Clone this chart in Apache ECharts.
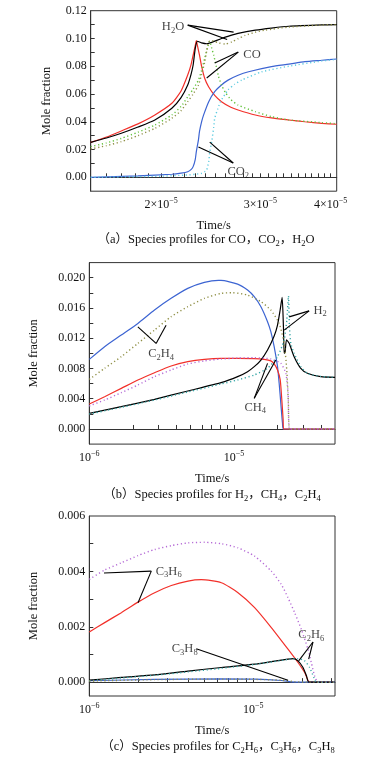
<!DOCTYPE html>
<html><head><meta charset="utf-8">
<script src="https://cdn.jsdelivr.net/npm/echarts@6/dist/echarts.min.js"></script>
<style>html,body{margin:0;padding:0;background:#fff}#c{width:370px;height:760px}</style>
</head><body><div id="c"></div>
<script>
// ================= DATA (time in s, mole fraction) =================
// (a) CO, CO2, H2O
const a_CO_solid = [[1.50e-5,0.0252],[1.60e-5,0.0290],[1.70e-5,0.0334],[1.82e-5,0.0385],[1.95e-5,0.0449],[2.09e-5,0.0533],[2.17e-5,0.0622],[2.23e-5,0.0737],[2.26e-5,0.0810],[2.28e-5,0.0880],[2.30e-5,0.0950],[2.31e-5,0.0985],[2.32e-5,0.0950],[2.34e-5,0.0880],[2.36e-5,0.0800],[2.39e-5,0.0713],[2.43e-5,0.0650],[2.49e-5,0.0590],[2.56e-5,0.0545],[2.66e-5,0.0505],[2.74e-5,0.0485],[2.94e-5,0.0449],[3.14e-5,0.0428],[3.37e-5,0.0413],[3.60e-5,0.0400],[3.86e-5,0.0389],[4.10e-5,0.0382]];
const a_CO_dotted = [[1.50e-5,0.0221],[1.60e-5,0.0248],[1.70e-5,0.0280],[1.82e-5,0.0325],[1.95e-5,0.0377],[2.09e-5,0.0449],[2.17e-5,0.0510],[2.23e-5,0.0580],[2.28e-5,0.0635],[2.33e-5,0.0700],[2.36e-5,0.0770],[2.39e-5,0.0857],[2.42e-5,0.0940],[2.44e-5,0.0980],[2.46e-5,0.0930],[2.48e-5,0.0880],[2.53e-5,0.0725],[2.56e-5,0.0665],[2.60e-5,0.0612],[2.66e-5,0.0560],[2.74e-5,0.0520],[2.94e-5,0.0473],[3.14e-5,0.0437],[3.37e-5,0.0413],[3.86e-5,0.0394],[4.10e-5,0.0386]];
const a_H2O_solid = [[1.50e-5,0.0252],[1.60e-5,0.0283],[1.70e-5,0.0317],[1.82e-5,0.0362],[1.95e-5,0.0413],[2.09e-5,0.0497],[2.17e-5,0.0574],[2.23e-5,0.0665],[2.26e-5,0.0740],[2.28e-5,0.0809],[2.30e-5,0.0929],[2.32e-5,0.0980],[2.34e-5,0.0975],[2.36e-5,0.0968],[2.41e-5,0.0962],[2.46e-5,0.0972],[2.56e-5,0.1000],[2.66e-5,0.1022],[2.74e-5,0.1037],[2.94e-5,0.1060],[3.14e-5,0.1075],[3.37e-5,0.1088],[3.86e-5,0.1098],[4.10e-5,0.1100]];
const a_H2O_dotted = [[1.50e-5,0.0204],[1.60e-5,0.0228],[1.70e-5,0.0257],[1.82e-5,0.0300],[1.95e-5,0.0353],[2.09e-5,0.0425],[2.17e-5,0.0480],[2.23e-5,0.0545],[2.28e-5,0.0600],[2.33e-5,0.0665],[2.36e-5,0.0740],[2.39e-5,0.0830],[2.41e-5,0.0910],[2.43e-5,0.0975],[2.46e-5,0.0985],[2.49e-5,0.0978],[2.53e-5,0.0968],[2.60e-5,0.0960],[2.67e-5,0.0975],[2.74e-5,0.0998],[2.82e-5,0.1022],[2.94e-5,0.1045],[3.06e-5,0.1060],[3.37e-5,0.1082],[3.86e-5,0.1097],[4.10e-5,0.1100]];
const a_CO2_solid = [[1.50e-5,0.0000],[1.82e-5,0.0010],[2.09e-5,0.0022],[2.17e-5,0.0030],[2.23e-5,0.0040],[2.26e-5,0.0055],[2.28e-5,0.0077],[2.30e-5,0.0130],[2.31e-5,0.0185],[2.33e-5,0.0270],[2.34e-5,0.0330],[2.36e-5,0.0400],[2.38e-5,0.0450],[2.43e-5,0.0545],[2.49e-5,0.0617],[2.56e-5,0.0665],[2.63e-5,0.0700],[2.74e-5,0.0735],[2.86e-5,0.0760],[3.14e-5,0.0797],[3.37e-5,0.0815],[3.60e-5,0.0833],[3.86e-5,0.0843],[4.10e-5,0.0852]];
const a_CO2_dotted = [[1.50e-5,0.0000],[1.95e-5,0.0007],[2.23e-5,0.0017],[2.33e-5,0.0025],[2.36e-5,0.0029],[2.39e-5,0.0040],[2.41e-5,0.0053],[2.43e-5,0.0113],[2.44e-5,0.0180],[2.46e-5,0.0257],[2.48e-5,0.0360],[2.49e-5,0.0425],[2.52e-5,0.0490],[2.55e-5,0.0545],[2.63e-5,0.0629],[2.70e-5,0.0670],[2.78e-5,0.0700],[3.02e-5,0.0760],[3.37e-5,0.0800],[3.86e-5,0.0838],[4.10e-5,0.0850]];

// (b) H2, CH4, C2H4
const b_C2H4_solid = [[1e-6,0.0092],[1.276e-6,0.01088],[1.664e-6,0.01242],[2.167e-6,0.01396],[2.824e-6,0.01573],[3.68e-6,0.01727],[4.795e-6,0.01859],[6.248e-6,0.01938],[7.8e-6,0.01965],[8.141e-6,0.01965],[1.061e-5,0.01916],[1.243e-5,0.01837],[1.382e-5,0.01749],[1.537e-5,0.01617],[1.708e-5,0.01419],[1.80e-5,0.01286],[1.898e-5,0.01088],[2.002e-5,0.00824],[2.055e-5,0.00604],[2.110e-5,0.00339],[2.167e-5,0.00075],[2.20e-5,0],[3.0e-5,0],[5e-5,0]];
const b_C2H4_dotted = [[1e-6,0.00656],[1.276e-6,0.00802],[1.664e-6,0.00956],[2.167e-6,0.01132],[2.824e-6,0.01308],[3.68e-6,0.01485],[4.795e-6,0.01617],[6.248e-6,0.01727],[8.141e-6,0.01793],[9.7e-6,0.01802],[1.243e-5,0.01771],[1.537e-5,0.01683],[1.80e-5,0.01573],[2.055e-5,0.01396],[2.225e-5,0.01132],[2.32e-5,0.0078],[2.38e-5,0.0034],[2.43e-5,0],[3.0e-5,0],[5e-5,0]];
const b_CH4_solid = [[1e-6,0.0033],[1.276e-6,0.00427],[1.664e-6,0.00537],[2.167e-6,0.00648],[2.824e-6,0.00744],[3.68e-6,0.00833],[4.795e-6,0.0089],[6.248e-6,0.00921],[8.141e-6,0.00934],[1.061e-5,0.00934],[1.382e-5,0.0093],[1.62e-5,0.0092],[1.80e-5,0.0090],[1.898e-5,0.0086],[2.002e-5,0.0078],[2.09e-5,0.0065],[2.145e-5,0.0038],[2.19e-5,0.0012],[2.21e-5,0],[3.0e-5,0],[5e-5,0]];
const b_CH4_dotted = [[1e-6,0.00304],[1.276e-6,0.00383],[1.664e-6,0.0048],[2.167e-6,0.00581],[2.824e-6,0.00692],[3.68e-6,0.0078],[4.795e-6,0.00859],[6.248e-6,0.009],[8.141e-6,0.00925],[1.061e-5,0.00938],[1.382e-5,0.00943],[1.80e-5,0.00925],[2.11e-5,0.00868],[2.285e-5,0.00736],[2.37e-5,0.0047],[2.43e-5,0],[3.0e-5,0],[5e-5,0]];
const b_H2_solid = [[1e-6,0.00207],[1.664e-6,0.00295],[2.824e-6,0.00392],[4.795e-6,0.00502],[8.141e-6,0.00612],[1.061e-5,0.00692],[1.243e-5,0.00758],[1.382e-5,0.00824],[1.537e-5,0.00912],[1.708e-5,0.01044],[1.898e-5,0.01229],[2.002e-5,0.01374],[2.088e-5,0.01573],[2.155e-5,0.0174],[2.20e-5,0.0135],[2.225e-5,0.0100],[2.26e-5,0.0102],[2.31e-5,0.0118],[2.41e-5,0.01132],[2.608e-5,0.00956],[2.90e-5,0.00802],[3.224e-5,0.00736],[3.983e-5,0.00692],[5e-5,0.00683]];
const b_H2_dotted = [[1e-6,0.00198],[1.664e-6,0.00286],[2.824e-6,0.00383],[4.795e-6,0.00489],[8.141e-6,0.00595],[1.061e-5,0.00648],[1.382e-5,0.00714],[1.708e-5,0.00802],[2.002e-5,0.00956],[2.225e-5,0.01176],[2.322e-5,0.0144],[2.384e-5,0.01758],[2.42e-5,0.01352],[2.474e-5,0.01132],[2.608e-5,0.0100],[2.90e-5,0.00824],[3.224e-5,0.00736],[3.983e-5,0.00695],[5e-5,0.00683]];

// (c) C2H6, C3H6, C3H8
const c_C3H6_dotted = [[1e-6,0.00371],[1.241e-6,0.00405],[1.568e-6,0.00431],[1.982e-6,0.00457],[2.504e-6,0.00479],[3.164e-6,0.00493],[3.998e-6,0.00503],[5.051e-6,0.00505],[6.385e-6,0.0050],[8.07e-6,0.00485],[1.019e-5,0.00455],[1.288e-5,0.00401],[1.482e-5,0.00353],[1.628e-5,0.00305],[1.787e-5,0.00251],[1.963e-5,0.00191],[2.155e-5,0.00119],[2.258e-5,0.00071],[2.366e-5,0.00023],[2.48e-5,0],[3.15e-5,0]];
const c_C3H6_solid = [[1e-6,0.00181],[1.241e-6,0.00215],[1.568e-6,0.00251],[1.982e-6,0.00289],[2.504e-6,0.00323],[3.164e-6,0.00349],[3.998e-6,0.00365],[4.823e-6,0.0037],[6.385e-6,0.00359],[8.07e-6,0.00323],[1.019e-5,0.00269],[1.288e-5,0.00197],[1.628e-5,0.00119],[1.873e-5,0.00071],[2.057e-5,0.00035],[2.206e-5,0],[3.15e-5,0]];
const c_C2H6_solid = [[1e-6,0.00007],[1.568e-6,0.00017],[2.504e-6,0.00026],[3.998e-6,0.0004],[6.385e-6,0.00053],[1.019e-5,0.00065],[1.288e-5,0.00074],[1.628e-5,0.00083],[1.75e-5,0.00085],[1.873e-5,0.00077],[2.01e-5,0.00053],[2.11e-5,0.00023],[2.18e-5,0],[3.15e-5,0]];
const c_C2H6_dotted = [[1e-6,0.00005],[1.568e-6,0.00015],[2.504e-6,0.00025],[3.998e-6,0.00037],[6.385e-6,0.0005],[1.019e-5,0.00064],[1.628e-5,0.00082],[1.873e-5,0.00085],[2.057e-5,0.00077],[2.206e-5,0.00053],[2.34e-5,0.00017],[2.42e-5,0],[3.15e-5,0]];
const c_C3H8_solid = [[1e-6,0.00005],[2.504e-6,0.0001],[6.385e-6,0.00012],[1.019e-5,0.00011],[1.482e-5,0.00006],[1.706e-5,0.00001],[1.963e-5,0],[3.15e-5,0]];
const c_C3H8_dotted = [[1e-6,0.00004],[2.504e-6,0.00009],[6.385e-6,0.00011],[1.019e-5,0.0001],[1.482e-5,0.00007],[1.787e-5,0.00002],[2.057e-5,0],[3.15e-5,0]];

// ================= AXES: ranges and tick labels =================
const a_xRange = [1.5e-5, 4.1e-5];
const a_xLabels = [2e-5, 3e-5, 4e-5];
const a_xTicks = [1.6e-5,1.7e-5,1.8e-5,1.9e-5,2.0e-5,2.1e-5,2.2e-5,2.3e-5,2.4e-5,2.5e-5,2.6e-5,2.7e-5,2.8e-5,2.9e-5,3.0e-5,3.1e-5,3.2e-5,3.3e-5,3.4e-5,3.5e-5,3.6e-5,3.7e-5,3.8e-5,3.9e-5,4.0e-5];
const a_yRange = [-0.01, 0.12];
const a_yLabels = [0, 0.02, 0.04, 0.06, 0.08, 0.10, 0.12];
const a_yTicks = [0,0.01,0.02,0.03,0.04,0.05,0.06,0.07,0.08,0.09,0.10,0.11];

const b_xRange = [1e-6, 5e-5];
const b_xLabels = [1e-6, 1e-5];
const b_xTicks = [2e-6,3e-6,4e-6,5e-6,6e-6,7e-6,8e-6,9e-6,1e-5,2e-5,3e-5,4e-5];
const b_yRange = [-0.002, 0.022];
const b_yLabels = [0, 0.004, 0.008, 0.012, 0.016, 0.020];
const b_yTicks = [0,0.002,0.004,0.006,0.008,0.010,0.012,0.014,0.016,0.018,0.020];

const c_xRange = [1e-6, 3.15e-5];
const c_xLabels = [1e-6, 1e-5];
const c_xTicks = [2e-6,3e-6,4e-6,5e-6,6e-6,7e-6,8e-6,9e-6,1e-5,2e-5,3e-5];
const c_yRange = [-0.0005, 0.006];
const c_yLabels = [0, 0.002, 0.004, 0.006];
const c_yTicks = [0,0.001,0.002,0.003,0.004,0.005];

// ================= TEXT =================
const captions = ['（a）Species profiles for CO，CO_2，H_2O', '（b）Species profiles for H_2，CH_4，C_2H_4', '（c）Species profiles for C_2H_6，C_3H_6，C_3H_8'];
const yTitle = 'Mole fraction';
const xTitle = 'Time/s';

// annotations: label anchor + leader lines (data coordinates)
const a_notes = [
  {text:'H_2O', at:[2.10e-5,0.1082], from:[2.23e-5,0.1096], to:[[2.69e-5,0.1046],[2.62e-5,0.0993]]},
  {text:'CO', at:[2.90e-5,0.0880], from:[2.742e-5,0.0902], to:[[2.49e-5,0.0823],[2.41e-5,0.0715]]},
  {text:'CO_2', at:[2.742e-5,0.0038], from:[2.686e-5,0.0103], to:[[2.33e-5,0.0218],[2.44e-5,0.0254]]}
];
const b_notes = [
  {text:'C_2H_4', at:[3.14e-6,0.0099], from:[2.897e-6,0.01131], to:[[2.167e-6,0.0135],[3.396e-6,0.01373]]},
  {text:'H_2', at:[3.95e-5,0.0157], from:[3.311e-5,0.01562], to:[[2.226e-5,0.01307],[2.41e-5,0.01482]]},
  {text:'CH_4', at:[1.405e-5,0.00285], from:[1.382e-5,0.00405], to:[[1.708e-5,0.00867],[1.949e-5,0.00911]]}
];
const c_notes = [
  {text:'C_3H_6', at:[3.05e-6,0.0040], from:[2.388e-6,0.00401], to:[[1.229e-6,0.00394],[1.982e-6,0.00287]]},
  {text:'C_3H_8', at:[3.817e-6,0.00121], from:[4.49e-6,0.00121], to:[[1.628e-5,0.00007]]},
  {text:'C_2H_6', at:[2.258e-5,0.00172], from:[2.312e-5,0.00145], to:[[1.891e-5,0.00077],[2.177e-5,0.00083]]}
];

// ================= BUILD =================
const SERIF = "'Liberation Serif','Noto Sans CJK SC',serif";
const C = {red:'#f2302a', black:'#000000', blue:'#3c64d2', green:'#63c23c', olive:'#8f8f45', cyan:'#5ccbe0', purple:'#b56bd6', teal:'#35a6a6'};
const L = Math.log10;

function chem(s){ // 'C_2H_4' -> rich text with subscripts
  let out = '', i = 0;
  while (i < s.length) {
    if (s[i] === '_') { out += '{s|' + s[i+1] + '}'; i += 2; }
    else { let j = i; while (j < s.length && s[j] !== '_') j++; out += '{n|' + s.slice(i, j) + '}'; i = j; }
  }
  return out;
}
const subRich = {
  n:{fontFamily:SERIF, fontSize:12.5, color:'#111', lineHeight:16},
  s:{fontFamily:SERIF, fontSize:8.5, color:'#111', lineHeight:8, verticalAlign:'bottom'}
};
const supRich = {
  n:{fontFamily:SERIF, fontSize:12, color:'#111', lineHeight:16},
  s:{fontFamily:SERIF, fontSize:8, color:'#111', lineHeight:8, verticalAlign:'top'}
};

const grids = [
  {left:90.7, top:10.7, width:246, height:180.5},
  {left:89.3, top:262.6, width:245.7, height:181.5},
  {left:89.3, top:516, width:245.7, height:180}
].map(g => Object.assign(g, {show:true, borderColor:'#333', borderWidth:1, backgroundColor:'transparent', containLabel:false, outerBoundsMode:'none'}));

function expLabel(v){ const e = Math.round(v); return '{n|10}{s|' + (e < 0 ? '−' + (-e) : e) + '}'; }
function mantLabel(v){ const m = Math.round(Math.pow(10, v) / 1e-5); return '{n|' + m + '×10}{s|−5}'; }

function xAxis(gi, range, ticks, labels, fmt){
  return {type:'value', gridIndex:gi, min:L(range[0]), max:L(range[1]),
    axisLine:{show:true, lineStyle:{color:'#333', width:1}},
    axisTick:{show:true, inside:true, length:4, customValues:ticks.map(t=>L(t)), lineStyle:{color:'#333', width:1}},
    axisLabel:{show:true, customValues:labels.map(t=>L(t)), formatter:fmt, margin:6, rich:supRich},
    splitLine:{show:false},
    name:xTitle, nameLocation:'middle', nameGap:28,
    nameTextStyle:{fontFamily:SERIF, fontSize:12.5, color:'#111'}};
}
function yAxis(gi, range, ticks, labels, dec, gap){
  return {type:'value', gridIndex:gi, min:range[0], max:range[1],
    axisLine:{show:true, lineStyle:{color:'#333', width:1}},
    axisTick:{show:true, inside:true, length:4, customValues:ticks, lineStyle:{color:'#333', width:1}},
    axisLabel:{show:true, customValues:labels, formatter:v=>v.toFixed(dec), margin:4, fontFamily:SERIF, fontSize:12, color:'#111'},
    splitLine:{show:false},
    name:yTitle, nameLocation:'middle', nameRotate:90, nameGap:gap,
    nameTextStyle:{fontFamily:SERIF, fontSize:12.5, color:'#111'}};
}

function line(gi, data, color, dotted){
  return {type:'line', xAxisIndex:gi, yAxisIndex:gi, data:data.map(p=>[L(p[0]), p[1]]),
    showSymbol:false, symbol:'none', smooth:0.2, silent:true, animation:false, z: dotted ? 3 : 2,
    lineStyle: dotted ? {color, width:1.4, type:[1.2, 2.6]} : {color, width:1.2, type:'solid'}};
}
function notes(gi, list){
  const segs = [];
  list.forEach(n => n.to.forEach(e => segs.push([{coord:[L(n.from[0]), n.from[1]]}, {coord:[L(e[0]), e[1]]}])));
  return {type:'scatter', xAxisIndex:gi, yAxisIndex:gi, symbolSize:0, silent:true, animation:false, z:5,
    data: list.map(n => ({name:n.text, value:[L(n.at[0]), n.at[1]]})),
    label:{show:true, position:'inside', formatter:p=>chem(p.name), rich:subRich},
    markLine:{silent:true, animation:false, symbol:['none','none'], label:{show:false},
      lineStyle:{color:'#000', width:1.1, type:'solid'}, emphasis:{disabled:true}, data:segs}};
}

const series = [
  line(0, a_CO_dotted, C.green, true), line(0, a_H2O_dotted, C.olive, true), line(0, a_CO2_dotted, C.cyan, true),
  line(0, a_CO_solid, C.red, false), line(0, a_H2O_solid, C.black, false), line(0, a_CO2_solid, C.blue, false),
  line(1, b_C2H4_dotted, C.olive, true), line(1, b_CH4_dotted, C.purple, true), line(1, b_H2_dotted, C.teal, true),
  line(1, b_C2H4_solid, C.blue, false), line(1, b_CH4_solid, C.red, false), line(1, b_H2_solid, C.black, false),
  line(2, c_C3H6_dotted, C.purple, true), line(2, c_C2H6_dotted, C.teal, true), line(2, c_C3H8_dotted, C.olive, true),
  line(2, c_C3H6_solid, C.red, false), line(2, c_C3H8_solid, C.blue, false), line(2, c_C2H6_solid, C.black, false),
  notes(0, a_notes), notes(1, b_notes), notes(2, c_notes)
];

const capPos = [[206, 240], [212, 495], [218, 747]];
const graphic = captions.map((t, i) => ({type:'text', x:capPos[i][0], y:capPos[i][1], silent:true,
  style:{text:chem(t), align:'center', verticalAlign:'middle', rich:{
    n:{fontFamily:SERIF, fontSize:12.5, fill:'#111', color:'#111', lineHeight:16},
    s:{fontFamily:SERIF, fontSize:8.5, fill:'#111', color:'#111', lineHeight:8, verticalAlign:'bottom'}}}}));

const chart = echarts.init(document.getElementById('c'), null, {renderer:'canvas'});
chart.setOption({
  animation:false, backgroundColor:'#fff',
  grid: grids,
  xAxis: [xAxis(0, a_xRange, a_xTicks, a_xLabels, mantLabel), xAxis(1, b_xRange, b_xTicks, b_xLabels, expLabel), xAxis(2, c_xRange, c_xTicks, c_xLabels, expLabel)],
  yAxis: [yAxis(0, a_yRange, a_yTicks, a_yLabels, 2, 38), yAxis(1, b_yRange, b_yTicks, b_yLabels, 3, 49), yAxis(2, c_yRange, c_yTicks, c_yLabels, 3, 49)],
  series, graphic
});
</script></body></html>
